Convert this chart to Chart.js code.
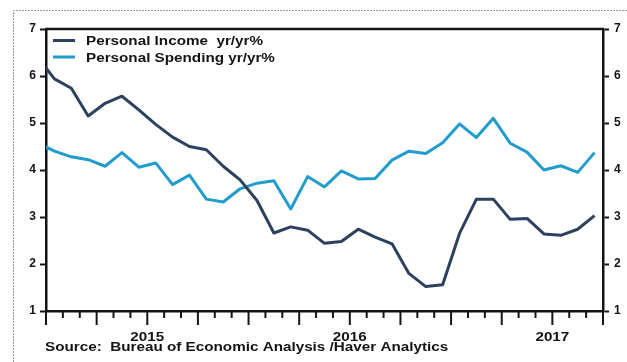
<!DOCTYPE html>
<html>
<head>
<meta charset="utf-8">
<script src="https://cdn.jsdelivr.net/npm/chart.js@4/dist/chart.umd.min.js"></script>
<style>
  html, body { margin: 0; padding: 0; background: #ffffff; }
  #wrap { position: relative; width: 627px; height: 362px; }
</style>
</head>
<body>
<div id="wrap"><canvas id="c" width="627" height="362"></canvas></div>
<script>
// Monthly observations (Dec 2014 sits just left of the axis and is clipped)
const months = [
  'Dec 2014',
  'Jan 2015','Feb 2015','Mar 2015','Apr 2015','May 2015','Jun 2015',
  'Jul 2015','Aug 2015','Sep 2015','Oct 2015','Nov 2015','Dec 2015',
  'Jan 2016','Feb 2016','Mar 2016','Apr 2016','May 2016','Jun 2016',
  'Jul 2016','Aug 2016','Sep 2016','Oct 2016','Nov 2016','Dec 2016',
  'Jan 2017','Feb 2017','Mar 2017','Apr 2017','May 2017','Jun 2017',
  'Jul 2017','Aug 2017','Sep 2017'
];

const personalIncome = [
  6.40,
  5.94, 5.74, 5.15, 5.42, 5.57, 5.28, 4.97, 4.70, 4.50, 4.43, 4.08, 3.79,
  3.35, 2.66, 2.79, 2.72, 2.44, 2.48, 2.74, 2.57, 2.43, 1.80, 1.52, 1.56,
  2.65, 3.38, 3.38, 2.95, 2.97, 2.64, 2.61, 2.74, 3.03
];

const personalSpending = [
  4.58,
  4.40, 4.28, 4.22, 4.08, 4.37, 4.06, 4.15, 3.69, 3.89, 3.38, 3.32, 3.60,
  3.72, 3.77, 3.17, 3.86, 3.64, 3.98, 3.81, 3.82, 4.21, 4.40, 4.35, 4.58,
  4.98, 4.69, 5.10, 4.57, 4.38, 4.00, 4.09, 3.95, 4.37
];

const seriesNames = ['Personal Income  yr/yr%', 'Personal Spending yr/yr%'];
const yearLabels = ['2015', '2016', '2017'];
const yTicks = [1, 2, 3, 4, 5, 6, 7];
const sourceNote = 'Source:  Bureau of Economic Analysis /Haver Analytics';

const INCOME_COLOR = '#2d405e';
const SPENDING_COLOR = '#229ccc';
const INK = '#141414';
const FONT = '"Liberation Sans", Arial, sans-serif';
const TEXT_FONT = 'bold 12px ' + FONT;
const TEXT_STRETCH = 1.27; // the lettering is set wide

// x position of each month: months since Jan 1 2015, placed mid-month
const toPoints = vals => vals.map((v, i) => ({ x: i - 0.5, y: v }));
const axisStart = 0;
const axisEnd = months.length - 1; // Oct 1 2017
const yearCenters = yearLabels.map((_, k) => 6 + 12 * k);

// wide lettering: horizontally stretched text, anchored at x
function wideText(ctx, text, x, y, align) {
  ctx.save();
  ctx.font = TEXT_FONT;
  ctx.textBaseline = 'alphabetic';
  ctx.textAlign = 'left';
  const w = ctx.measureText(text).width * TEXT_STRETCH;
  const left = align === 'center' ? x - w / 2 : x;
  ctx.translate(left, y);
  ctx.scale(TEXT_STRETCH, 1);
  ctx.fillText(text, 0, 0);
  ctx.restore();
}

const decorations = {
  id: 'decorations',
  afterDraw(chart) {
    const ctx = chart.ctx;
    const area = chart.chartArea;
    const xs = chart.scales.x;
    ctx.save();

    // outer dashed frame
    ctx.strokeStyle = '#9a9a9a';
    ctx.lineWidth = 1;
    ctx.setLineDash([2, 1]);
    ctx.beginPath();
    ctx.moveTo(13.5, 362);
    ctx.lineTo(13.5, 10.5);
    ctx.lineTo(627, 10.5);
    ctx.stroke();
    ctx.setLineDash([]);

    // top edge of the plot box
    ctx.strokeStyle = INK;
    ctx.lineWidth = 2.5;
    ctx.beginPath();
    ctx.moveTo(area.left - 1, area.top);
    ctx.lineTo(area.right + 1, area.top);
    ctx.stroke();

    // monthly tick marks, longer at each quarter
    ctx.lineWidth = 2;
    for (let m = axisStart; m <= axisEnd; m++) {
      const px = xs.getPixelForValue(m);
      const len = m % 3 === 0 ? 14 : 7;
      ctx.beginPath();
      ctx.moveTo(px, area.bottom);
      ctx.lineTo(px, area.bottom + len);
      ctx.stroke();
    }

    ctx.fillStyle = INK;

    // year labels, centred on mid-year
    yearLabels.forEach((lab, k) => {
      wideText(ctx, lab, xs.getPixelForValue(yearCenters[k]), 341, 'center');
    });

    // legend inside the plot
    chart.data.datasets.forEach((ds, i) => {
      const y = 40.5 + i * 16.5;
      ctx.strokeStyle = ds.borderColor;
      ctx.lineWidth = 3;
      ctx.beginPath();
      ctx.moveTo(53, y);
      ctx.lineTo(75, y);
      ctx.stroke();
      ctx.fillStyle = INK;
      wideText(ctx, ds.label, 86, y + 4.5, 'left');
    });

    // source note
    wideText(ctx, sourceNote, 45, 351, 'left');

    ctx.restore();
  }
};

const yAxisCommon = {
  type: 'linear',
  min: yTicks[0],
  max: yTicks[yTicks.length - 1],
  afterBuildTicks(scale) { scale.ticks = yTicks.map(v => ({ value: v })); },
  grid: { display: true, drawOnChartArea: false, drawTicks: true, tickLength: 6, tickWidth: 2, tickColor: INK },
  border: { display: true, color: INK, width: 2.5 },
  ticks: { color: INK, font: { family: FONT, size: 12, weight: 'bold' }, padding: 4 }
};

new Chart(document.getElementById('c'), {
  type: 'line',
  data: {
    datasets: [
      {
        label: seriesNames[0],
        data: toPoints(personalIncome),
        borderColor: INCOME_COLOR,
        borderWidth: 3,
        pointRadius: 0,
        tension: 0,
        borderJoinStyle: 'round'
      },
      {
        label: seriesNames[1],
        data: toPoints(personalSpending),
        borderColor: SPENDING_COLOR,
        borderWidth: 3,
        pointRadius: 0,
        tension: 0,
        borderJoinStyle: 'round'
      }
    ]
  },
  options: {
    responsive: false,
    animation: false,
    devicePixelRatio: 1,
    layout: { padding: { top: 29, left: 0, right: 0, bottom: 0 } },
    plugins: { legend: { display: false }, tooltip: { enabled: false } },
    scales: {
      x: {
        type: 'linear',
        min: axisStart,
        max: axisEnd,
        afterBuildTicks(scale) { scale.ticks = yearCenters.map(v => ({ value: v })); },
        afterFit(scale) { scale.height = 51; },
        grid: { display: false },
        border: { display: true, color: INK, width: 2.5 },
        ticks: { display: false }
      },
      y: Object.assign({}, yAxisCommon, {
        position: 'left',
        afterFit(scale) { scale.width = 46; }
      }),
      y2: Object.assign({}, yAxisCommon, {
        position: 'right',
        ticks: Object.assign({}, yAxisCommon.ticks, { padding: 5 }),
        afterFit(scale) { scale.width = 24; }
      })
    }
  },
  plugins: [decorations]
});
</script>
</body>
</html>
